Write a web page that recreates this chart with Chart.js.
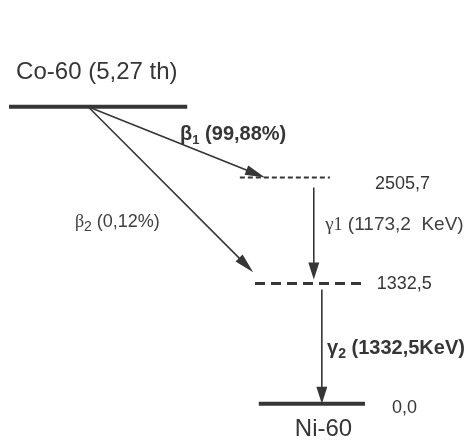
<!DOCTYPE html>
<html>
<head>
<meta charset="utf-8">
<script src="https://cdn.jsdelivr.net/npm/chart.js@4/dist/chart.umd.min.js"></script>
<style>
  html, body { margin: 0; padding: 0; background: #fff; }
  #wrap { width: 474px; height: 440px; position: relative; }
</style>
</head>
<body>
<div id="wrap"><canvas id="scheme"></canvas></div>
<script>
// Decay scheme of Co-60 into Ni-60 (energies in keV)
const parentName = 'Co-60';
const parentHalfLife = '5,27 th';
const daughterName = 'Ni-60';
const levelEnergies = [2505.7, 1332.5, 0.0];
const betaBranches = [99.88, 0.12];          // intensity of each β branch, %
const betaTargets = [2505.7, 1332.5];        // Ni-60 level fed by each branch
const gammaFrom = [2505.7, 1332.5];
const gammaTo = [1332.5, 0.0];
const gammaEnergies = [1173.2, 1332.5];

// ---- layout of the scheme (horizontal units 0..100, schematic parent height) ----
const parentDrawnAt = 3290;
const parentSpan = [1.9, 39.5];
const levelSpans = [[50.6, 69.6], [53.8, 76.6], [54.6, 77.0]];
const levelLook = [
  { width: 2, dash: [5, 3] },
  { width: 3, dash: [10, 6] },
  { width: 4, dash: [] }
];
const betaStartX = 18.6;
const betaEndX = [55.9, 55.8];
const betaTrim = [0, 16];
const gammaX = [66.2, 67.9];
const gammaTrim = [[10, 4], [6, 0]];

const INK = '#363636';
const SANS = '"Liberation Sans", Arial, sans-serif';
const SERIF = '"Liberation Serif", "DejaVu Serif", serif';

const fmt = v => v.toFixed(1).replace('.', ',');
const pct = v => v.toFixed(2).replace('.', ',') + '%';

const datasets = [
  {
    data: [{ x: parentSpan[0], y: parentDrawnAt }, { x: parentSpan[1], y: parentDrawnAt }],
    borderColor: INK, borderWidth: 4
  },
  ...levelEnergies.map((E, i) => ({
    data: [{ x: levelSpans[i][0], y: E }, { x: levelSpans[i][1], y: E }],
    borderColor: INK, borderWidth: levelLook[i].width, borderDash: levelLook[i].dash
  }))
].map(d => Object.assign(d, { showLine: true, pointRadius: 0, fill: false, borderCapStyle: 'butt' }));

function arrow(ctx, x0, y0, x1, y1, trim0, trim1, len, w) {
  const dx = x1 - x0, dy = y1 - y0, L = Math.hypot(dx, dy);
  const ux = dx / L, uy = dy / L;
  const sx = x0 + ux * trim0, sy = y0 + uy * trim0;
  const ex = x1 - ux * trim1, ey = y1 - uy * trim1;
  ctx.beginPath();
  ctx.moveTo(sx, sy);
  ctx.lineTo(ex - ux * len * 0.6, ey - uy * len * 0.6);
  ctx.stroke();
  const bx = ex - ux * len, by = ey - uy * len;
  ctx.beginPath();
  ctx.moveTo(ex, ey);
  ctx.lineTo(bx - uy * w / 2, by + ux * w / 2);
  ctx.lineTo(bx + uy * w / 2, by - ux * w / 2);
  ctx.closePath();
  ctx.fill();
}

// text with a subscript: parts = [[text, font, dy], ...]
function richText(ctx, x, y, parts, color) {
  ctx.fillStyle = color || INK;
  ctx.textBaseline = 'alphabetic';
  ctx.textAlign = 'left';
  let cx = x;
  for (const [t, font, dy] of parts) {
    ctx.font = font;
    ctx.fillText(t, cx, y + (dy || 0));
    cx += ctx.measureText(t).width;
  }
}

const schemePlugin = {
  id: 'scheme',
  afterDatasetsDraw(chart) {
    const { ctx, scales: { x: xs, y: ys } } = chart;
    const px = u => xs.getPixelForValue(u);
    const py = e => ys.getPixelForValue(e);
    ctx.save();
    ctx.strokeStyle = INK;
    ctx.fillStyle = INK;
    ctx.lineWidth = 1.6;

    // β branches from the parent level
    betaTargets.forEach((E, i) => {
      arrow(ctx, px(betaStartX), py(parentDrawnAt), px(betaEndX[i]), py(E),
            0, betaTrim[i], 20, 10);
    });
    // γ transitions between Ni-60 levels
    gammaFrom.forEach((E, i) => {
      arrow(ctx, px(gammaX[i]), py(E), px(gammaX[i]), py(gammaTo[i]),
            gammaTrim[i][0], gammaTrim[i][1], 17, 11);
    });

    // parent / daughter names
    ctx.font = '24px ' + SANS;
    ctx.fillStyle = INK;
    ctx.textBaseline = 'middle';
    ctx.fillText(parentName + ' (' + parentHalfLife + ')', px(3.4), py(parentDrawnAt) - 34);
    ctx.fillText(daughterName, px(62.2), py(0) + 26);

    // level energies
    ctx.font = '18px ' + SANS;
    const levelLabelX = [79.1, 79.5, 82.7];
    const levelLabelDy = [6, 1, 4];
    levelEnergies.forEach((E, i) => {
      ctx.fillText(fmt(E), px(levelLabelX[i]), py(E) + levelLabelDy[i]);
    });

    // β labels
    richText(ctx, px(38.0), 140, [
      ['β', 'bold 20px ' + SANS, 0],
      ['1', 'bold 13px ' + SANS, 4],
      [' (' + pct(betaBranches[0]) + ')', 'bold 20px ' + SANS, 0]
    ]);
    richText(ctx, px(15.8), 227, [
      ['β', '18px ' + SERIF, 0],
      ['2', '14px ' + SANS, 4],
      [' (' + pct(betaBranches[1]) + ')', '18px ' + SANS, 0]
    ], '#404040');

    // γ labels
    richText(ctx, px(68.6), 230, [
      ['γ', '19px ' + SERIF, 0],
      ['1', '18px ' + SERIF, 0],
      [' (' + fmt(gammaEnergies[0]) + '  KeV)', '19px ' + SANS, 0]
    ], '#404040');
    richText(ctx, px(69.0), 354, [
      ['γ', 'bold 20px ' + SANS, 0],
      ['2', 'bold 14px ' + SANS, 4],
      [' (' + fmt(gammaEnergies[1]) + 'KeV)', 'bold 20px ' + SANS, 0]
    ]);
    ctx.restore();
  }
};

new Chart(document.getElementById('scheme'), {
  type: 'scatter',
  data: { datasets },
  options: {
    responsive: true,
    maintainAspectRatio: false,
    animation: false,
    events: [],
    layout: { padding: 0 },
    scales: {
      x: { type: 'linear', min: 0, max: 100, display: false },
      y: { type: 'linear', min: -401, max: 4472, display: false }
    },
    plugins: { legend: { display: false }, tooltip: { enabled: false } }
  },
  plugins: [schemePlugin]
});
</script>
</body>
</html>
